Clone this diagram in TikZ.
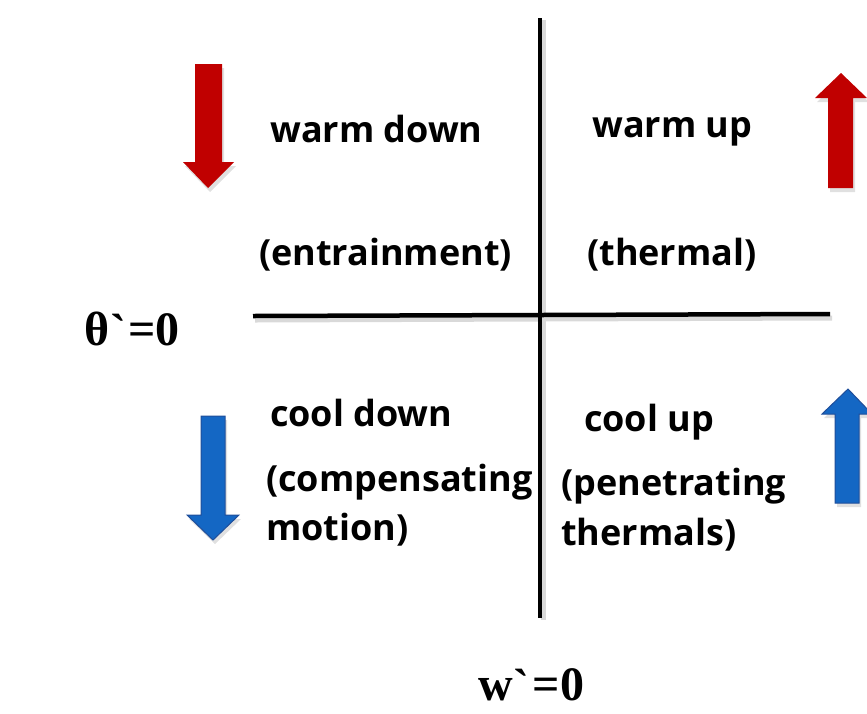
\documentclass[tikz,border=0pt]{standalone}
\usepackage{fontspec}
\setmainfont{Open Sans}
\newfontfamily\serifb{Liberation Serif}
\definecolor{redarr}{HTML}{C00000}
\definecolor{bluearr}{HTML}{1467C4}
\definecolor{bluedge}{HTML}{1F4E9A}
\tikzset{
  lbl/.style={anchor=base west, inner sep=0pt, font=\fontsize{36}{42}\selectfont\bfseries},
  axlbl/.style={anchor=base west, inner sep=0pt, font=\serifb\fontsize{48}{52}\selectfont\bfseries},
  axis/.style={line width=4.5pt},
  shadowline/.style={line width=5pt, black!15},
  redarrow/.style={fill=redarr, draw=none},
  bluearrow/.style={fill=bluearr, draw=bluedge, line width=1pt},
  arrshadow/.style={fill=black!12, draw=none}
}
\begin{document}
\begin{tikzpicture}[x=1pt,y=-1pt]
\useasboundingbox (0,0) rectangle (867,713);
% shadows
\draw[shadowline] (255,320) -- (832,318);
\draw[shadowline] (543,20) -- (543,620);
% axes
\draw[axis] (540,18) -- (540,618);
\draw[axis] (253,316) -- (830,314);
% red down arrow
\fill[arrshadow] (197,68) -- (224,68) -- (224,166) -- (236,166) -- (210,192) -- (185,166) -- (197,166) -- cycle;
\fill[redarrow] (195,64) -- (222,64) -- (222,162) -- (234,162) -- (208,188) -- (183,162) -- (195,162) -- cycle;
% red up arrow
\fill[arrshadow] (830,192) -- (855,192) -- (855,102) -- (869,102) -- (843,77) -- (817,102) -- (830,102) -- cycle;
\fill[redarrow] (828,188) -- (853,188) -- (853,98) -- (867,98) -- (841,73) -- (815,98) -- (828,98) -- cycle;
% blue down arrow
\fill[arrshadow] (203,420) -- (227,420) -- (227,519) -- (241,519) -- (215,544) -- (189,519) -- (203,519) -- cycle;
\draw[bluearrow] (201,416) -- (225,416) -- (225,515) -- (239,515) -- (213,540) -- (187,515) -- (201,515) -- cycle;
% blue up arrow
\fill[arrshadow] (837,507) -- (861,507) -- (861,418) -- (874,418) -- (850,393) -- (824,418) -- (837,418) -- cycle;
\draw[bluearrow] (835,503) -- (859,503) -- (859,414) -- (872,414) -- (848,389) -- (822,414) -- (835,414) -- cycle;
% labels
\node[lbl] (wd) at (270,142) {warm down};
\node[lbl] (wu) at (592,137) {warm up};
\node[lbl] (en) at (259,265) {(entrainment)};
\node[lbl] (th) at (587,265) {(thermal)};
\node[lbl] (cd) at (270,426) {cool down};
\node[lbl] (cu) at (584,431) {cool up};
\node[lbl] (cm1) at (266,491) {(compensating};
\node[lbl] (cm2) at (266,540) {motion)};
\node[lbl] (pt1) at (561,495) {(penetrating};
\node[lbl] (pt2) at (561,545) {thermals)};
\node[axlbl] (theta) at (84,345) {θ\kern1pt\raisebox{-2pt}{`}\kern2pt=0};
\node[axlbl] (w) at (478,700) {w\kern1pt\raisebox{-2pt}{`}\kern3pt=0};
\end{tikzpicture}
\end{document}
